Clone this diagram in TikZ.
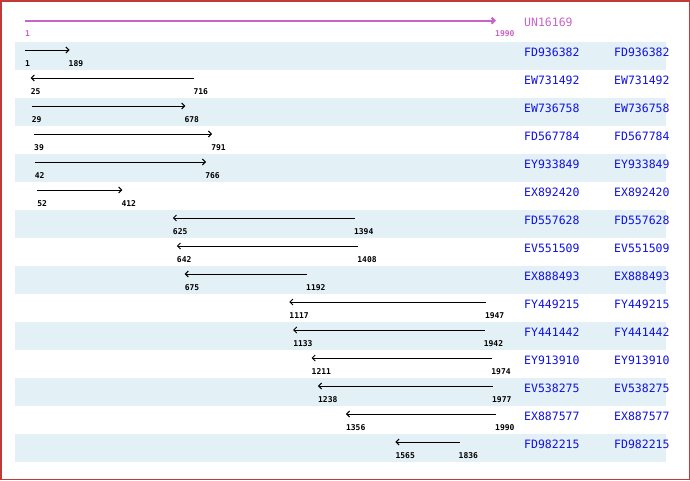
\documentclass[tikz,border=0pt]{standalone}
\usepackage{fontspec}
\setmainfont{DejaVu Sans Mono}
\usetikzlibrary{arrows.meta}
\definecolor{band}{HTML}{E3F0F5}
\definecolor{mag}{HTML}{C864C8}
\definecolor{nameblue}{HTML}{1010E8}
\definecolor{framered}{HTML}{C03A3A}
\begin{document}
\begin{tikzpicture}[x=1pt,y=-1pt,
  hit/.style={line width=1pt},
  tip/.style={-{Straight Barb[length=3pt,width=6pt]}},
  num/.style={font=\bfseries\fontsize{8}{9}\selectfont,anchor=west,inner sep=0pt},
  acc/.style={font=\fontsize{11.5}{13}\selectfont,text=nameblue,anchor=west,inner sep=0pt}]
\useasboundingbox (0,0) rectangle (690,480);
\draw[framered, line width=1.5pt] (0.75,0.75) rectangle (689.25,479.25);
% reference sequence
\coordinate (q1) at (25,20.7);
\coordinate (q2) at (496,20.7);
\draw[mag, line width=2pt, tip] (q1) -- (q2);
\node[num, text=mag] (ql1) at (25,34) {1};
\node[num, text=mag] (ql2) at (495,34) {1990};
\node[acc, text=mag] (qn) at (524,22) {UN16169};
\foreach \i/\s/\e/\d/\n in {
  0/1/189/1/FD936382,
  1/25/716/0/EW731492,
  2/29/678/1/EW736758,
  3/39/791/1/FD567784,
  4/42/766/1/EY933849,
  5/52/412/1/EX892420,
  6/625/1394/0/FD557628,
  7/642/1408/0/EV551509,
  8/675/1192/0/EX888493,
  9/1117/1947/0/FY449215,
  10/1133/1942/0/FY441442,
  11/1211/1974/0/EY913910,
  12/1238/1977/0/EV538275,
  13/1356/1990/0/EX887577,
  14/1565/1836/0/FD982215}{
  \pgfmathsetmacro\y{42+28*\i}
  \pgfmathsetmacro\xs{25+(\s-1)*0.236802}
  \pgfmathsetmacro\xe{25+(\e-1)*0.236802}
  \ifodd\i\else
    \fill[band] (15,\y) rectangle (666,\y+28);
  \fi
  \coordinate (s\i) at (\xs,\y+8);
  \coordinate (e\i) at (\xe,\y+8);
  \ifnum\d=1
    \draw[hit,tip] (s\i) -- (e\i);
  \else
    \draw[hit,tip] (e\i) -- (s\i);
  \fi
  \node[num] (ls\i) at (\xs,\y+22) {\s};
  \node[num] (le\i) at (\xe-1,\y+22) {\e};
  \node[acc] (na\i) at (524,\y+10) {\n};
  \node[acc] (nb\i) at (614,\y+10) {\n};
}
\end{tikzpicture}
\end{document}
